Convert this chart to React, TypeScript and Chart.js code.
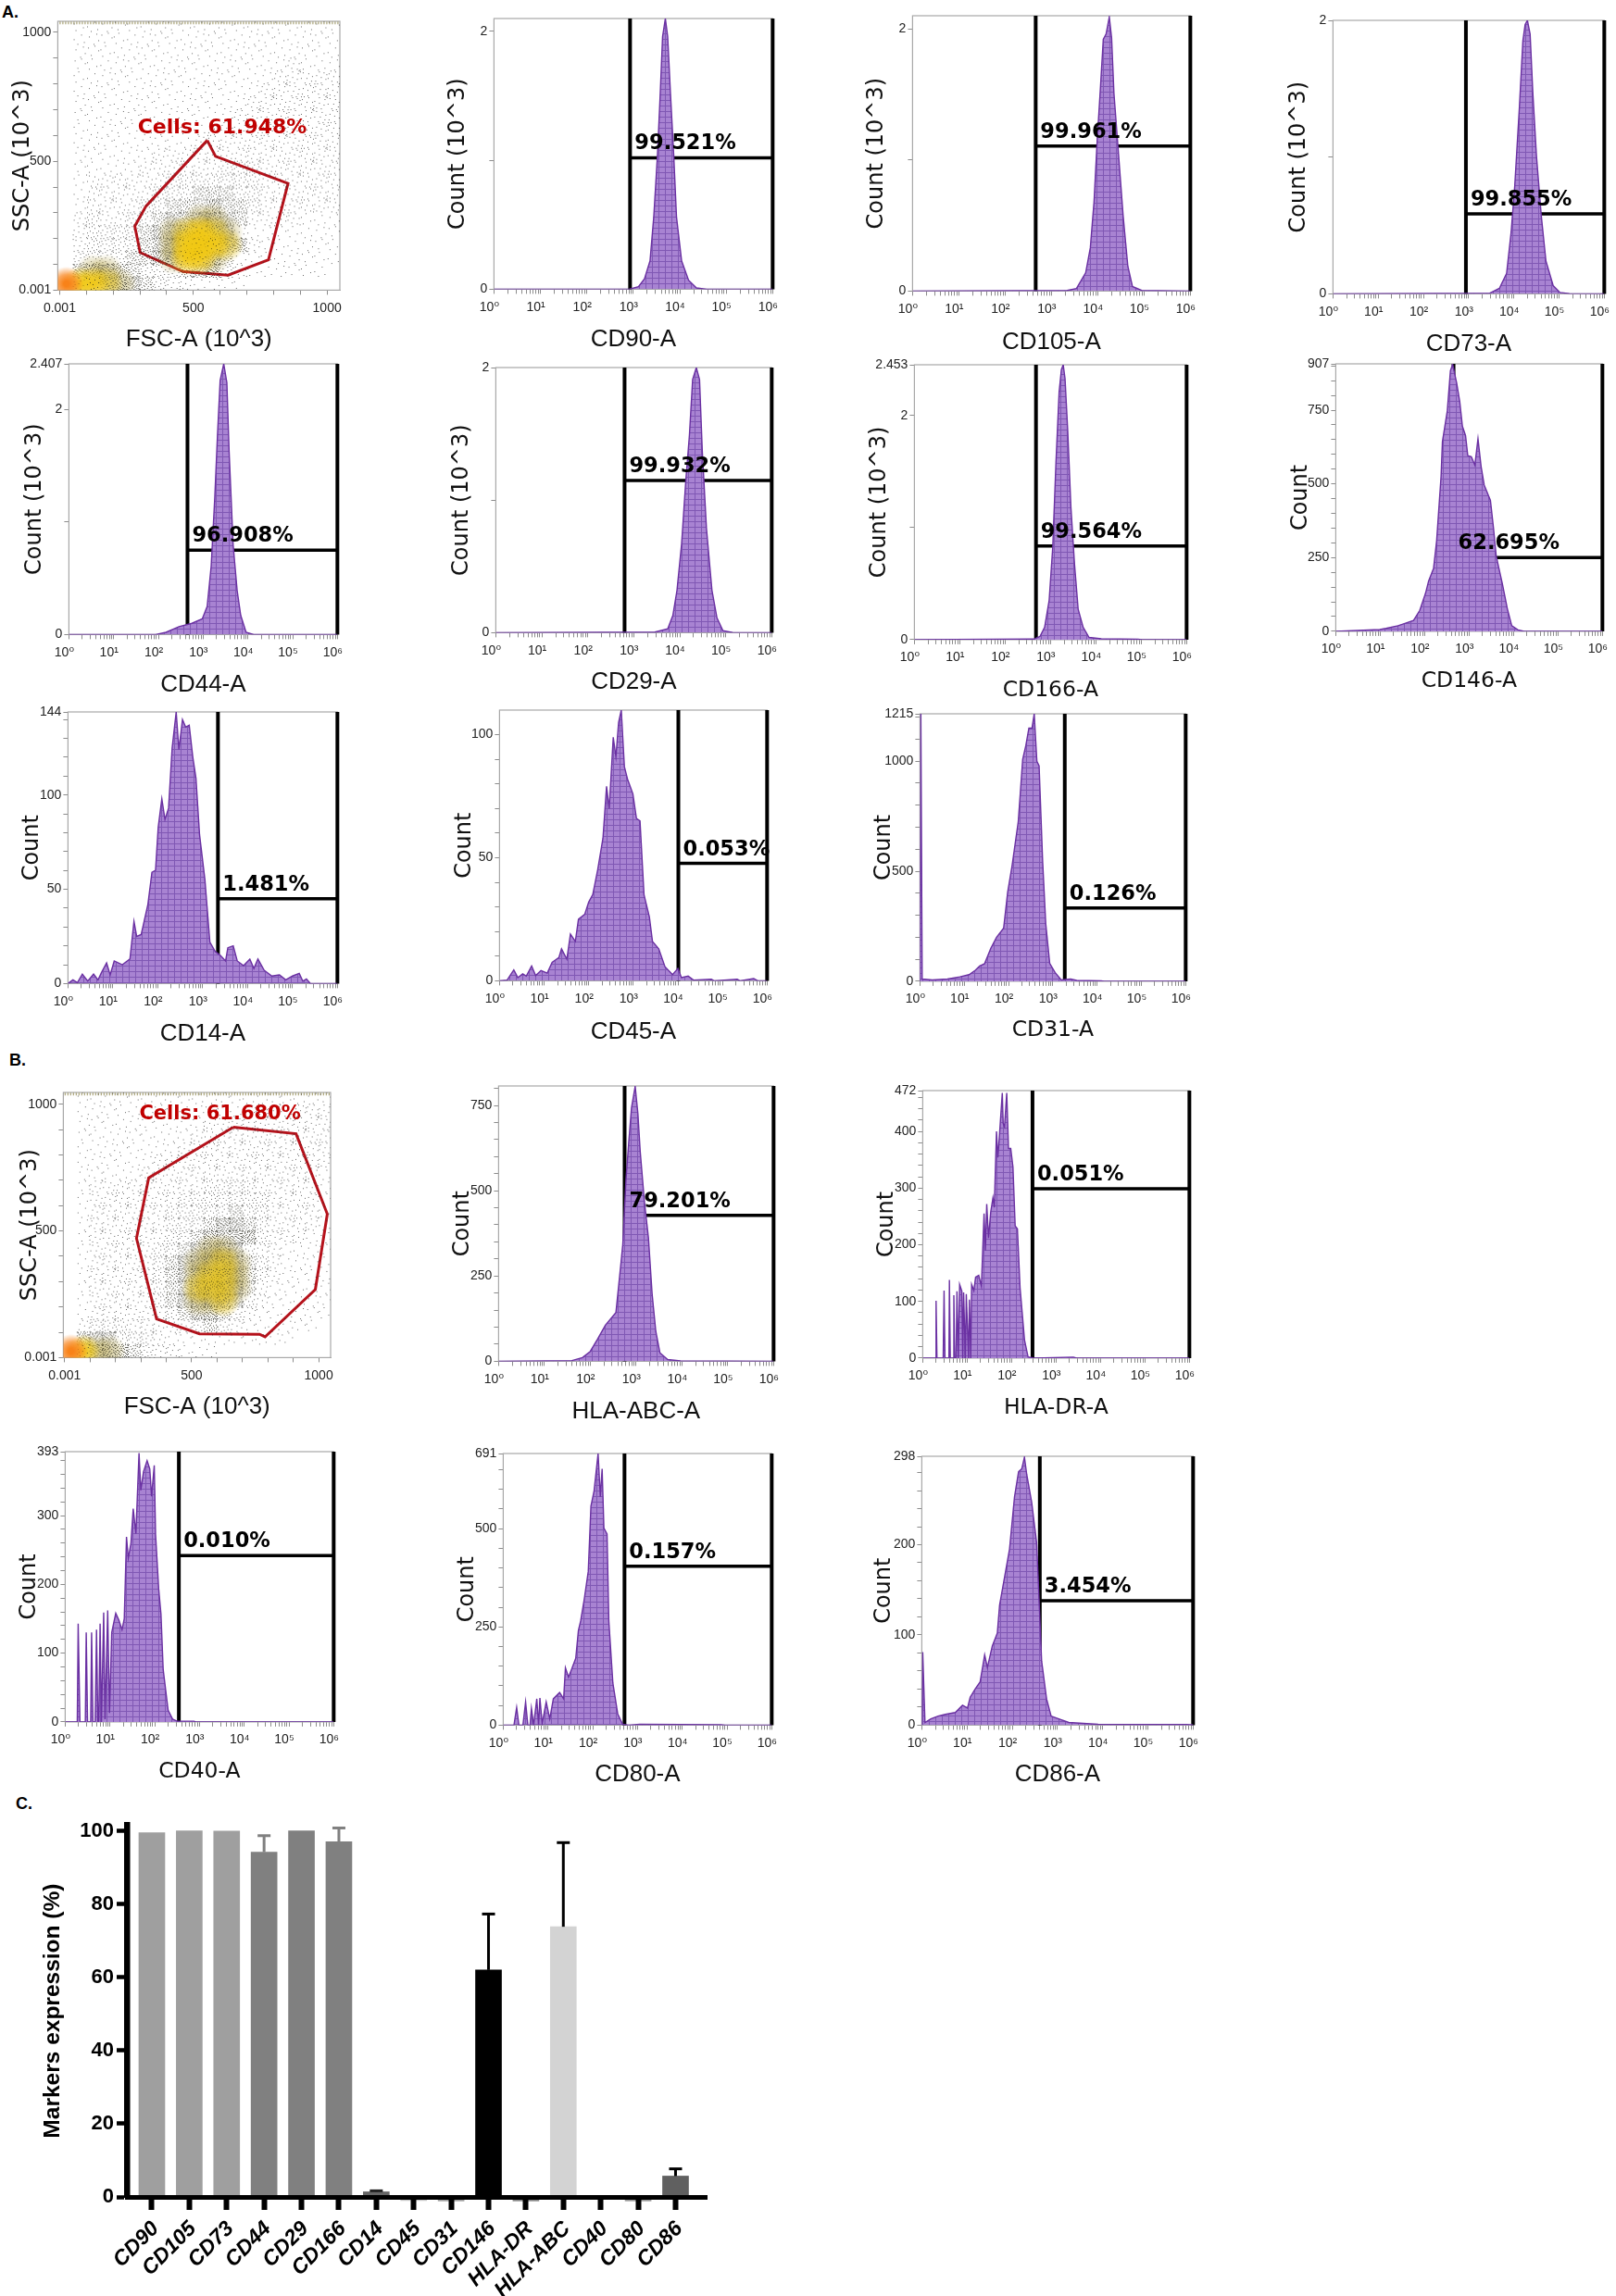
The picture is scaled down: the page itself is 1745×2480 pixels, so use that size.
import React, { useEffect, useRef } from "react";
import { Chart, registerables } from "chart.js";

Chart.register(...registerables);

// ---------- histogram traces: [log10(intensity), count] ----------
const cd90 = [[2.91,0],[3.11,.02],[3.24,.08],[3.36,.22],[3.44,.56],[3.52,1.04],[3.58,1.52],[3.63,1.96],[3.69,2.1],[3.74,1.96],[3.8,1.52],[3.87,1.04],[3.93,.56],[4.04,.22],[4.19,.07],[4.36,.01],[4.58,0]];
const cd105 = [[3.34,.005],[3.54,.02],[3.74,.14],[3.84,.33],[3.92,.68],[3.99,1.16],[4.06,1.56],[4.12,1.92],[4.18,1.96],[4.25,2.09],[4.3,1.93],[4.35,1.51],[4.45,1.04],[4.55,.57],[4.65,.19],[4.75,.035],[4.95,.005]];
const cd73 = [[3.47,.005],[3.68,.04],[3.84,.15],[3.94,.45],[4.02,.79],[4.12,1.35],[4.2,1.85],[4.25,1.97],[4.3,2],[4.36,1.9],[4.42,1.47],[4.5,1.01],[4.61,.56],[4.71,.24],[4.87,.06],[5.02,.01],[5.23,.002]];
const cd44 = [[1.94,0],[2.17,.02],[2.46,.07],[2.75,.1],[2.98,.14],[3.09,.25],[3.18,.61],[3.26,1.22],[3.32,1.77],[3.38,2.26],[3.46,2.407],[3.53,2.24],[3.58,1.63],[3.67,.8],[3.76,.39],[3.84,.17],[3.96,.02],[4.13,0]];
const cd29 = [[3.46,.005],[3.74,.03],[3.85,.13],[3.94,.32],[4.04,.67],[4.13,1.14],[4.21,1.49],[4.28,1.91],[4.36,2],[4.43,1.91],[4.49,1.37],[4.58,.79],[4.7,.32],[4.81,.11],[4.94,.015],[5.15,.002]];
const cd166 = [[2.64,.005],[2.77,.03],[2.87,.11],[2.97,.35],[3.05,.83],[3.12,1.58],[3.19,2.21],[3.24,2.41],[3.28,2.453],[3.32,2.33],[3.38,1.86],[3.45,1.18],[3.53,.67],[3.61,.27],[3.72,.11],[3.85,.02],[4.12,.008],[4.93,.004],[5.01,0]];
const cd146 = [[.99,6],[1.13,10],[1.4,19],[1.54,26],[1.75,37],[1.89,71],[2.02,129],[2.09,171],[2.2,213],[2.27,307],[2.37,527],[2.4,643],[2.51,748],[2.58,884],[2.63,905],[2.72,842],[2.79,779],[2.85,695],[2.92,664],[2.97,596],[3.05,592],[3.13,564],[3.2,653],[3.27,559],[3.34,496],[3.48,444],[3.55,349],[3.61,255],[3.75,160],[3.86,77],[3.96,19],[4.1,5],[4.24,0]];
const cd14 = [[.11,2],[.21,.5],[.32,5],[.44,1.3],[.57,5],[.67,2],[.75,6],[.86,11],[.94,4.6],[1.03,12],[1.21,10],[1.38,13],[1.47,33],[1.53,25],[1.63,26],[1.78,42],[1.87,59],[1.95,60],[2.01,83],[2.09,98],[2.16,87],[2.24,93],[2.32,125],[2.41,144],[2.47,124],[2.55,140],[2.62,136],[2.7,137],[2.78,120],[2.85,109],[2.93,79],[3.05,55],[3.16,22],[3.28,17],[3.39,15],[3.51,12],[3.56,19],[3.68,20],[3.77,12],[3.91,9.5],[4.05,13],[4.14,8],[4.23,13],[4.37,7],[4.54,4],[4.71,4.6],[4.85,2],[5,4],[5.15,5.4],[5.23,1.3],[5.31,2.5],[5.4,0]];
const cd45 = [[.17,.3],[.32,4.4],[.41,1.3],[.52,2.8],[.6,1.9],[.72,6],[.81,2.1],[.93,4.2],[1.07,3.1],[1.18,7.5],[1.33,9.4],[1.39,13],[1.51,8.8],[1.59,19],[1.7,16],[1.77,25],[1.91,27],[2,32],[2.09,35],[2.2,45],[2.32,58],[2.4,79],[2.46,70],[2.55,99],[2.61,91],[2.67,105],[2.73,110],[2.8,87],[2.87,82],[2.99,76],[3.07,66],[3.15,65],[3.24,35],[3.36,26],[3.43,16],[3.57,13],[3.71,5.7],[3.88,2.5],[4,5],[4.08,1.3],[4.23,1.9],[4.35,.3],[4.75,.6],[4.81,0],[5.33,.6],[5.39,0],[5.7,.9],[5.79,0]];
const cd31 = [[.02,1215],[.05,10],[.28,6],[.62,10],[.9,20],[1.11,30],[1.25,50],[1.35,70],[1.46,80],[1.6,150],[1.73,200],[1.89,242],[1.98,404],[2.08,525],[2.22,726],[2.32,1009],[2.39,1070],[2.46,1150],[2.53,1150],[2.58,1215],[2.64,999],[2.69,979],[2.77,545],[2.84,262],[2.93,81],[3.05,40],[3.19,6],[3.4,10],[3.54,4],[4.09,2],[4.16,0]];
const hlaAbc = [[1.6,2],[1.83,11],[2,29],[2.16,65],[2.33,106],[2.56,143],[2.67,288],[2.71,343],[2.78,534],[2.84,643],[2.9,743],[2.98,806],[3.04,725],[3.09,615],[3.18,470],[3.27,361],[3.35,197],[3.43,88],[3.52,25],[3.69,5],[3.97,1]];
const hlaDr = [[.29,0],[.3,101],[.32,0],[.46,0],[.48,119],[.5,0],[.59,0],[.6,138],[.62,0],[.69,0],[.7,111],[.72,0],[.75,0],[.77,118],[.8,0],[.83,130],[.88,118],[.9,0],[.92,116],[.96,0],[.98,113],[1.03,0],[1.05,103],[1.08,0],[1.1,130],[1.15,119],[1.19,143],[1.26,146],[1.32,127],[1.38,255],[1.41,190],[1.44,272],[1.48,212],[1.53,258],[1.58,283],[1.61,266],[1.66,400],[1.69,354],[1.72,386],[1.79,468],[1.81,414],[1.84,408],[1.89,468],[1.93,370],[1.98,370],[2.03,337],[2.08,233],[2.13,228],[2.19,124],[2.29,32],[2.37,2],[2.5,0],[3.39,1.6],[3.46,0]];
const cd40 = [[.27,0],[.29,143],[.33,0],[.45,0],[.47,130],[.5,0],[.57,0],[.59,130],[.62,0],[.67,0],[.7,134],[.73,0],[.75,0],[.78,143],[.81,0],[.86,159],[.89,4],[.95,162],[.99,13],[1.04,130],[1.13,158],[1.2,148],[1.27,134],[1.32,150],[1.37,269],[1.41,238],[1.47,260],[1.52,310],[1.58,274],[1.65,391],[1.69,337],[1.75,364],[1.83,380],[1.89,368],[1.93,328],[1.99,373],[2.02,272],[2.09,193],[2.14,157],[2.19,76],[2.3,17],[2.4,4],[2.5,1],[2.88,1],[2.91,0]];
const cd80 = [[.24,0],[.3,45],[.35,0],[.44,0],[.5,59],[.55,0],[.6,0],[.63,43],[.68,0],[.75,67],[.79,0],[.82,69],[.87,4],[.96,59],[1.04,16],[1.12,67],[1.26,83],[1.35,67],[1.39,146],[1.46,122],[1.54,146],[1.62,170],[1.68,241],[1.73,265],[1.81,320],[1.9,391],[1.96,557],[2.03,596],[2.12,691],[2.17,581],[2.21,652],[2.25,501],[2.32,486],[2.36,265],[2.45,107],[2.56,28],[2.67,2],[2.8,0],[3.05,2],[4.87,1],[4.96,0]];
const cd86 = [[.02,81],[.07,3],[.2,7],[.36,10],[.52,12],[.74,14],[.9,22],[1.01,19],[1.07,31],[1.18,40],[1.29,48],[1.39,78],[1.45,64],[1.56,88],[1.67,102],[1.72,133],[1.83,164],[1.94,195],[2.05,253],[2.14,281],[2.21,284],[2.27,297],[2.32,278],[2.43,247],[2.54,202],[2.65,71],[2.76,29],[2.86,10],[3.03,7],[3.25,3],[3.57,2],[3.9,1],[4.77,.7],[5.86,.7],[6,.3]];

// ---------- gated scatter plots: polygons and density classes (0-9) read per 50x50 cell ----------
const gateA = [[552,581],[583,519],[854,414],[781,118],[630,58],[461,72],[301,146],[281,248],[323,326],[552,581]];
const gateB = [[664,910],[911,884],[1034,567],[987,269],[789,82],[767,92],[531,94],[362,153],[283,471],[331,710],[664,910]];
const densityA = [
  "011111111111111111111",
  "011111111111111111111",
  "011111111111111111111",
  "011111111111111112111",
  "011111111111111122222",
  "011111111111111222222",
  "011111111111112222222",
  "011111111111122222222",
  "011111111112222222222",
  "011111111122222222222",
  "011111122222222222222",
  "011111222222333222222",
  "012222223333333222222",
  "012222233344433222222",
  "012222334445443222222",
  "023223345566542222111",
  "023333456787621111111",
  "023333456888752111111",
  "033334456886411111111",
  "056654333455321111110",
  "988765432211110000000",
];
const densityB = [
  "011111111111111111111",
  "011111111111112222222",
  "011111111112222222222",
  "011111111122222222222",
  "011111111222222222222",
  "011111122222222222222",
  "011111222222222222221",
  "012222222223333222221",
  "012222222333333322221",
  "012222223333343322221",
  "012222223334554322221",
  "012222223345555322211",
  "012222233456653221111",
  "012222234566764321111",
  "012222234567764321111",
  "012222234577764211111",
  "012222234566753211111",
  "012222223455432111111",
  "023332222234321111110",
  "055533321111111111000",
  "986654322111000000000",
];
const scatterTickValues = [0, 100, 200, 300, 400, 500, 600, 700, 800, 900, 1000];
const scatterTickLabels: Record<number, string> = { 0: "0.001", 500: "500", 1000: "1000" };

// ---------- summary bar chart ----------
const markers = ["CD90","CD105","CD73","CD44","CD29","CD166","CD14","CD45","CD31","CD146","HLA-DR","HLA-ABC","CD40","CD80","CD86"];
const expression = [99.5, 100, 99.9, 94.2, 100, 97, 1.4, -1, -1.1, 62, -1.1, 73.8, 0, -1.1, 5.7];
const errorTop = [99.5, 100, 99.9, 98.8, 100, 100.9, 1.8, -1, -1.1, 77.4, -1.1, 96.9, 0, -1.1, 7.8];
const barColors = ["#9f9f9f","#9f9f9f","#9f9f9f","#808080","#808080","#808080","#666666","#c8c8c8","#a0a0a0","#000000","#888888","#d3d3d3","#999999","#999999","#606060"];
const errorColors = ["#9f9f9f","#9f9f9f","#9f9f9f","#808080","#808080","#808080","#222222","#c8c8c8","#a0a0a0","#000000","#888888","#000000","#999999","#999999","#000000"];
const pctTicks = [0, 20, 40, 60, 80, 100];

// ---------- layout table ----------
const COUNT3 = "Count (10^3)";
const histPanels = [
  { name: "CD90-A", yt: COUNT3, data: cd90, ymax: 2.1, labels: [0, 2], minor: 1, gate: 2.93, level: 1.02, pct: "99.521%", f: [533, 20, 836, 311], tx: 494, ty: 365, wide: false },
  { name: "CD105-A", yt: COUNT3, data: cd105, ymax: 2.1, labels: [0, 2], minor: 1, gate: 2.66, level: 1.106, pct: "99.961%", f: [985, 17, 1287, 313], tx: 946, ty: 368, wide: false },
  { name: "CD73-A", yt: COUNT3, data: cd73, ymax: 2, labels: [0, 2], minor: 1, gate: 2.94, level: 0.585, pct: "99.855%", f: [1439, 22, 1734, 316], tx: 1402, ty: 370, wide: false },
  { name: "CD44-A", yt: COUNT3, data: cd44, ymax: 2.407, labels: [0, 2, 2.407], minor: 1, gate: 2.65, level: 0.75, pct: "96.908%", f: [74, 393, 366, 684], tx: 37, ty: 738, wide: false },
  { name: "CD29-A", yt: COUNT3, data: cd29, ymax: 2, labels: [0, 2], minor: 1, gate: 2.8, level: 1.148, pct: "99.932%", f: [535, 397, 835, 682], tx: 498, ty: 735, wide: false },
  { name: "CD166-A", yt: COUNT3, data: cd166, ymax: 2.453, labels: [0, 2, 2.453], minor: 1, gate: 2.68, level: 0.835, pct: "99.564%", f: [987, 394, 1283, 690], tx: 949, ty: 745, wide: true },
  { name: "CD146-A", yt: "Count", data: cd146, ymax: 907, labels: [0, 250, 500, 750, 907], minor: 50, gate: 2.65, level: 250, pct: "62.695%", f: [1442, 393, 1732, 681], tx: 1404, ty: 735, wide: true },
  { name: "CD14-A", yt: "Count", data: cd14, ymax: 144, labels: [0, 50, 100, 144], minor: 10, gate: 3.34, level: 45, pct: "1.481%", f: [73, 769, 366, 1061], tx: 34, ty: 1115, wide: false },
  { name: "CD45-A", yt: "Count", data: cd45, ymax: 110, labels: [0, 50, 100], minor: 10, gate: 4.01, level: 47.7, pct: "0.053%", f: [539, 767, 830, 1058], tx: 501, ty: 1113, wide: false },
  { name: "CD31-A", yt: "Count", data: cd31, ymax: 1215, labels: [0, 500, 1000, 1215], minor: 100, gate: 3.27, level: 333, pct: "0.126%", f: [993, 771, 1282, 1059], tx: 954, ty: 1112, wide: true },
  { name: "HLA-ABC-A", yt: "Count", data: hlaAbc, ymax: 807, labels: [0, 250, 500, 750], minor: 50, gate: 2.75, level: 428, pct: "79.201%", f: [538, 1173, 837, 1469], tx: 499, ty: 1523, wide: false },
  { name: "HLA-DR-A", yt: "Count", data: hlaDr, ymax: 472, labels: [0, 100, 200, 300, 400, 472], minor: 20, gate: 2.47, level: 299, pct: "0.051%", f: [996, 1178, 1286, 1466], tx: 957, ty: 1520, wide: true },
  { name: "CD40-A", yt: "Count", data: cd40, ymax: 393, labels: [0, 100, 200, 300, 393], minor: 20, gate: 2.54, level: 242, pct: "0.010%", f: [70, 1568, 362, 1859], tx: 31, ty: 1913, wide: true },
  { name: "CD80-A", yt: "Count", data: cd80, ymax: 691, labels: [0, 250, 500, 691], minor: 50, gate: 2.71, level: 404, pct: "0.157%", f: [543, 1570, 835, 1862], tx: 504, ty: 1915, wide: false },
  { name: "CD86-A", yt: "Count", data: cd86, ymax: 298, labels: [0, 100, 200, 298], minor: 20, gate: 2.61, level: 138, pct: "3.454%", f: [995, 1573, 1290, 1862], tx: 954, ty: 1915, wide: false },
];
const scatterPanels = [
  { density: densityA, gate: gateA, text: "Cells: 61.948%", tfs: 22, tp: [292, 610], f: [62, 23, 366, 312], xmin: -7, xmax: 1048, ymax: 1043, tx: 24, ty: 365 },
  { density: densityB, gate: gateB, text: "Cells: 61.680%", tfs: 21, tp: [294, 940], f: [68, 1180, 356, 1465], xmin: -5, xmax: 1047, ymax: 1047, tx: 32, ty: 1518 },
];
const letters = [["A.", 2, 3], ["B.", 10, 1135], ["C.", 17, 1938]];

const SANS = "'Liberation Sans','DejaVu Sans',sans-serif";
const DEJA = "'DejaVu Sans',sans-serif";
const TITLE_Y = 24;
const SUP = "⁰¹²³⁴⁵⁶";
const LOG_TICKS: number[] = [];
for (let d = 0; d < 6; d++) for (let k = 1; k < 10; k++) LOG_TICKS.push(k * 10 ** d);
LOG_TICKS.push(1e6);

const frame = {
  id: "frame",
  beforeDatasetsDraw(c: any) {
    const a = c.chartArea, g = c.ctx;
    g.save(); g.strokeStyle = "#a8a8a8"; g.lineWidth = 1.2;
    g.strokeRect(a.left, a.top, a.right - a.left, a.bottom - a.top); g.restore();
  },
};

function hatch() {
  const s = document.createElement("canvas");
  s.width = 7; s.height = 6;
  const g = s.getContext("2d")!;
  g.fillStyle = "#a883d2"; g.fillRect(0, 0, 7, 6);
  g.fillStyle = "#8058b4"; g.fillRect(0, 0, 7, 1); g.fillRect(0, 0, 1, 6);
  return g.createPattern(s, "repeat")!;
}

function place(f: number[], tx: number, ty: number, fs: number) {
  const left = tx - fs * 0.6, top = f[1] - 14, right = f[2] + 14;
  const bottom = ty + fs * 0.6;
  return { left, top, w: Math.ceil(right - left), h: Math.ceil(bottom - top), padL: f[0] - left, padT: 14, padR: right - f[2], padB: bottom - f[3] };
}

function HistPanel({ p }: { p: any }) {
  const ref = useRef<HTMLCanvasElement>(null);
  const xfs = p.wide ? 23.5 : 26;
  const box = place(p.f, p.tx, p.ty, TITLE_Y);
  const bottomAdj = xfs * 0.6 - TITLE_Y * 0.6;
  const H = box.h + bottomAdj, padB = box.padB + bottomAdj;
  useEffect(() => {
    const yTicks: number[] = [];
    for (let v = 0; v < p.ymax; v += p.minor) yTicks.push(v);
    p.labels.forEach((v: number) => { if (!yTicks.includes(v)) yTicks.push(v); });
    yTicks.sort((a, b) => a - b);
    const trace = [[0, 0], ...p.data, [6, 0]].map(([e, y]: number[]) => ({ x: 10 ** e, y }));
    const line = (pts: number[][], w: number) => ({
      data: pts.map(([x, y]) => ({ x, y })), borderColor: "#000", borderWidth: w,
      pointRadius: 0, fill: false, clip: false, tension: 0,
    });
    const gx = 10 ** p.gate;
    const label = {
      id: "pct",
      afterDatasetsDraw(c: any) {
        const g = c.ctx;
        g.save(); g.fillStyle = "#000"; g.font = `bold 22.5px ${DEJA}`;
        g.fillText(p.pct, c.scales.x.getPixelForValue(gx) + 5, c.scales.y.getPixelForValue(p.level) - 9);
        g.restore();
      },
    };
    const chart = new Chart(ref.current!, {
      type: "line",
      data: {
        datasets: [
          { data: trace, borderColor: "#6a30a2", borderWidth: 1.4, backgroundColor: hatch(), fill: { value: 0 }, pointRadius: 0, tension: 0 },
          line([[gx, 0], [gx, p.ymax]], 4),
          line([[1e6, 0], [1e6, p.ymax]], 4),
          line([[gx, p.level], [1e6, p.level]], 3.5),
        ] as any,
      },
      options: {
        responsive: false, animation: false, events: [],
        layout: { autoPadding: false, padding: { top: box.padT, right: box.padR, left: 0, bottom: 0 } },
        plugins: { legend: { display: false }, tooltip: { enabled: false } },
        scales: {
          x: {
            type: "logarithmic", min: 1, max: 1e6,
            afterFit: (s: any) => { s.height = padB; },
            afterBuildTicks: (s: any) => { s.ticks = LOG_TICKS.map((value) => ({ value })); },
            grid: { drawOnChartArea: false, tickLength: 5, tickColor: "#8c8c8c" },
            border: { color: "#a8a8a8" },
            ticks: {
              autoSkip: false, maxRotation: 0, minRotation: 0, padding: 6, labelOffset: -5, color: "#222",
              font: { family: SANS, size: 14 },
              callback: (v: any) => { const e = Math.log10(v); return Math.abs(e - Math.round(e)) < 1e-9 ? "10" + SUP[Math.round(e)] : ""; },
            },
            title: { display: true, text: p.name, padding: 0, color: "#111", font: { family: p.wide ? DEJA : SANS, size: xfs } },
          },
          y: {
            type: "linear", min: 0, max: p.ymax,
            afterFit: (s: any) => { s.width = box.padL; },
            afterBuildTicks: (s: any) => { s.ticks = yTicks.map((value) => ({ value })); },
            grid: { drawOnChartArea: false, tickLength: 5, tickColor: "#8c8c8c" },
            border: { color: "#a8a8a8" },
            ticks: {
              autoSkip: false, padding: 2, color: "#222", font: { family: SANS, size: 14 },
              callback: (v: any) => (p.labels.includes(v) ? String(v) : ""),
            },
            title: { display: true, text: p.yt, padding: 0, color: "#111", font: { family: DEJA, size: TITLE_Y } },
          },
        },
      } as any,
      plugins: [frame, label],
    } as any);
    return () => chart.destroy();
  }, []);
  return <canvas ref={ref} width={box.w} height={Math.ceil(H)} style={{ position: "absolute", left: box.left, top: box.top, width: box.w, height: Math.ceil(H), display: "block" }} />;
}

// fixed stipple positions inside a 15 px cell
const STIPPLE = [[2,3],[9,1],[13,6],[5,11],[11,12],[1,8],[7,6],[14,13],[4,0],[10,8],[0,13],[6,2],[12,3],[3,6],[8,13],[14,1],[2,11],[9,4],[5,8],[12,10],[0,4],[7,10],[11,0],[4,13],[13,8],[1,1],[8,7],[6,14],[10,5],[3,9],[14,10],[5,4],[12,13],[2,6],[9,11],[0,10],[7,0],[13,3],[4,7],[11,9],[6,12],[1,14],[8,2],[14,7],[3,2],[10,13],[5,14],[12,6],[0,0],[7,4],[9,8],[2,13],[11,3],[4,10],[13,11],[6,6],[1,5],[8,10],[10,1],[3,12]];
const LEVEL_DOTS = [0, 4, 9, 16, 34, 56, 48, 30, 12, 0];
const LEVEL_GLOW: (number[] | null)[] = [null, null, null, null, null, null, [170, 150, 50, 0.4], [222, 188, 24, 0.65], [240, 198, 12, 0.85], [248, 130, 25, 1]];
const GLOW_SIZE = 37;

function levelSprite(level: number) {
  const s = document.createElement("canvas");
  s.width = GLOW_SIZE; s.height = GLOW_SIZE;
  const g = s.getContext("2d")!;
  const c = GLOW_SIZE / 2;
  const glow = LEVEL_GLOW[level];
  if (glow) {
    const [r, gr, b, a] = glow;
    const rad = g.createRadialGradient(c, c, 3, c, c, c);
    rad.addColorStop(0, `rgba(${r},${gr},${b},${a})`);
    rad.addColorStop(0.45, `rgba(${r},${gr},${b},${a * 0.7})`);
    rad.addColorStop(1, `rgba(${r},${gr},${b},0)`);
    g.fillStyle = rad; g.fillRect(0, 0, GLOW_SIZE, GLOW_SIZE);
  }
  g.fillStyle = level >= 4 ? "rgba(25,25,15,.72)" : "rgba(40,40,40,.7)";
  STIPPLE.slice(0, LEVEL_DOTS[level]).forEach(([x, y]) => g.fillRect(x + 11, y + 11, 1, 1));
  return s;
}

function ScatterPanel({ p }: { p: any }) {
  const ref = useRef<HTMLCanvasElement>(null);
  const xfs = 26;
  const box = place(p.f, p.tx, p.ty, TITLE_Y);
  const bottomAdj = xfs * 0.6 - TITLE_Y * 0.6;
  const H = box.h + bottomAdj, padB = box.padB + bottomAdj;
  useEffect(() => {
    const sprites = Array.from({ length: 10 }, (_, i) => levelSprite(i));
    const cells: any[] = [];
    p.density.forEach((row: string, i: number) => {
      const r = p.density.length - 1 - i;
      row.split("").forEach((ch, c) => { if (ch !== "0") cells.push({ x: 25 + 50 * c, y: 25 + 50 * r, level: +ch, turn: (c * 3 + r) % 4 }); });
    });
    cells.sort((a, b) => a.level - b.level);
    const label = {
      id: "cells",
      afterDatasetsDraw(c: any) {
        const g = c.ctx;
        g.save(); g.fillStyle = "#c00000"; g.font = `bold ${p.tfs}px ${DEJA}`;
        g.fillText(p.text, c.scales.x.getPixelForValue(p.tp[0]), c.scales.y.getPixelForValue(p.tp[1]));
        g.restore();
      },
    };
    const chart = new Chart(ref.current!, {
      type: "scatter",
      data: {
        datasets: [
          { data: cells, pointRadius: 8, pointStyle: (c: any) => sprites[c.raw.level], pointRotation: (c: any) => c.raw.turn * 90, showLine: false },
          { data: [{ x: 0, y: p.ymax - 6 }, { x: p.xmax, y: p.ymax - 6 }], showLine: true, borderColor: "#9a9360", borderWidth: 3, borderDash: [1, 2], pointRadius: 0 },
          { data: p.gate.map(([x, y]: number[]) => ({ x, y })), showLine: true, borderColor: "#b5121b", borderWidth: 3, pointRadius: 0, tension: 0 },
        ] as any,
      },
      options: {
        responsive: false, animation: false, events: [],
        layout: { autoPadding: false, padding: { top: box.padT, right: box.padR, left: 0, bottom: 0 } },
        plugins: { legend: { display: false }, tooltip: { enabled: false } },
        scales: {
          x: {
            type: "linear", min: p.xmin, max: p.xmax,
            afterFit: (s: any) => { s.height = padB; },
            afterBuildTicks: (s: any) => { s.ticks = scatterTickValues.map((value) => ({ value })); },
            grid: { drawOnChartArea: false, tickLength: 5, tickColor: "#8c8c8c" },
            border: { color: "#a8a8a8" },
            ticks: { autoSkip: false, maxRotation: 0, minRotation: 0, padding: 6, color: "#222", font: { family: SANS, size: 14 }, callback: (v: any) => scatterTickLabels[v] ?? "" },
            title: { display: true, text: "FSC-A (10^3)", padding: 0, color: "#111", font: { family: SANS, size: xfs } },
          },
          y: {
            type: "linear", min: 0, max: p.ymax,
            afterFit: (s: any) => { s.width = box.padL; },
            afterBuildTicks: (s: any) => { s.ticks = scatterTickValues.map((value) => ({ value })); },
            grid: { drawOnChartArea: false, tickLength: 5, tickColor: "#8c8c8c" },
            border: { color: "#a8a8a8" },
            ticks: { autoSkip: false, padding: 2, color: "#222", font: { family: SANS, size: 14 }, callback: (v: any) => scatterTickLabels[v] ?? "" },
            title: { display: true, text: "SSC-A (10^3)", padding: 0, color: "#111", font: { family: DEJA, size: TITLE_Y } },
          },
        },
      } as any,
      plugins: [frame, label],
    } as any);
    return () => chart.destroy();
  }, []);
  return <canvas ref={ref} width={box.w} height={Math.ceil(H)} style={{ position: "absolute", left: box.left, top: box.top, width: box.w, height: Math.ceil(H), display: "block" }} />;
}

function BarPanel() {
  const ref = useRef<HTMLCanvasElement>(null);
  const left = 43, top = 1955, right = 780, bottom = 2480;
  const area = [137, 1969, 763, 2373];
  useEffect(() => {
    const whiskers = {
      id: "whiskers",
      afterDatasetsDraw(c: any) {
        const g = c.ctx, xs = c.scales.x, ys = c.scales.y;
        g.save();
        expression.forEach((v, i) => {
          if (errorTop[i] - v < 0.3) return;
          const x = xs.getPixelForValue(i), y0 = ys.getPixelForValue(v), y1 = ys.getPixelForValue(errorTop[i]);
          g.fillStyle = errorColors[i];
          g.fillRect(x - 1.5, y1, 3, y0 - y1);
          g.fillRect(x - 7, y1 - 1, 14, 3);
        });
        g.restore();
      },
    };
    const chart = new Chart(ref.current!, {
      type: "bar",
      data: {
        datasets: [{ data: expression.map((y, x) => ({ x, y })), backgroundColor: barColors, barThickness: 28, clip: false }] as any,
      },
      options: {
        responsive: false, animation: false, events: [],
        layout: { autoPadding: false, padding: { top: area[1] - top, right: right - area[2], left: 0, bottom: 0 } },
        plugins: { legend: { display: false }, tooltip: { enabled: false } },
        scales: {
          x: {
            type: "linear", min: -0.668, max: 14.83, offset: false,
            afterFit: (s: any) => { s.height = bottom - area[3]; },
            afterBuildTicks: (s: any) => { s.ticks = markers.map((_, value) => ({ value })); },
            grid: { offset: false, drawOnChartArea: false, tickLength: 14, tickWidth: 6, tickColor: "#000", z: 1 },
            border: { color: "#000", width: 5, z: 1 },
            ticks: {
              autoSkip: false, minRotation: 45, maxRotation: 45, padding: 7, labelOffset: 4, color: "#000",
              font: { family: SANS, size: 23, weight: "bold", style: "italic" },
              callback: (v: any) => markers[v] ?? "",
            },
          },
          y: {
            type: "linear", min: 0, max: 101.6,
            afterFit: (s: any) => { s.width = area[0] - left; },
            afterBuildTicks: (s: any) => { s.ticks = pctTicks.map((value) => ({ value })); },
            grid: { drawOnChartArea: false, tickLength: 11, tickWidth: 4.5, tickColor: "#000", z: 1 },
            border: { color: "#000", width: 6.5, z: 1 },
            ticks: { padding: 3, color: "#000", font: { family: SANS, size: 22, weight: "bold" } },
            title: { display: true, text: "Markers expression (%)", padding: 0, color: "#000", font: { family: SANS, size: 24.5, weight: "bold" } },
          },
        },
      } as any,
      plugins: [whiskers],
    } as any);
    return () => chart.destroy();
  }, []);
  return <canvas ref={ref} width={right - left} height={bottom - top} style={{ position: "absolute", left, top, width: right - left, height: bottom - top, display: "block" }} />;
}

export default function App() {
  return (
    <div style={{ position: "absolute", left: 0, top: 0, width: 1745, height: 2480, overflow: "hidden", background: "#fff" }}>
      {letters.map(([t, x, y]) => (
        <div key={t as string} style={{ position: "absolute", left: x as number, top: y as number, font: `bold 18px ${SANS}`, color: "#000" }}>{t}</div>
      ))}
      {scatterPanels.map((p, i) => <ScatterPanel key={i} p={p} />)}
      {histPanels.map((p) => <HistPanel key={p.name} p={p} />)}
      <BarPanel />
    </div>
  );
}
